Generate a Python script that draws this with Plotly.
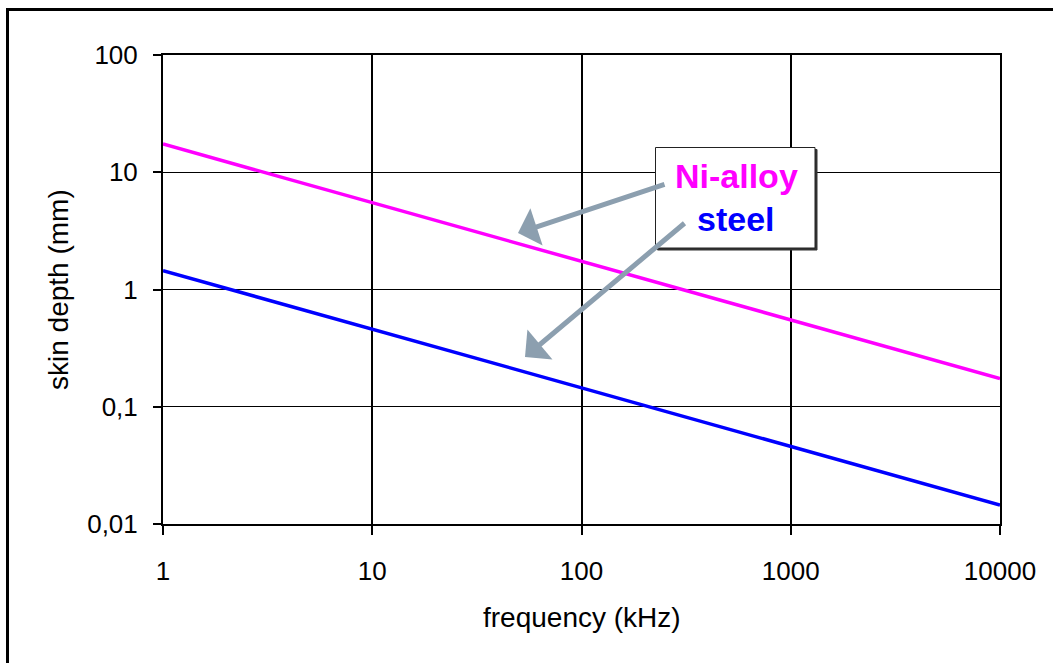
import plotly.graph_objects as go

# ---- data ----
freq_khz = [1, 10, 100, 1000, 10000]
ni_alloy_mm = [17.4, 5.5, 1.74, 0.55, 0.174]
steel_mm = [1.45, 0.46, 0.145, 0.046, 0.0145]

x_tickvals = [1, 10, 100, 1000, 10000]
x_ticktext = ["1", "10", "100", "1000", "10000"]
y_tickvals = [0.01, 0.1, 1, 10, 100]
y_ticktext = ["0,01", "0,1", "1", "10", "100"]

FONT = "Liberation Sans, Arial, sans-serif"
W, H = 1053, 663
L, R, T, B = 163, 1000, 55, 524  # plot-area pixel edges


def px(x):
    return (x - L) / (R - L)


def py(y):
    return (B - y) / (B - T)


fig = go.Figure()
fig.add_trace(go.Scatter(x=freq_khz, y=ni_alloy_mm, mode="lines", name="Ni-alloy",
                         line=dict(color="#FF00FF", width=3.5)))
fig.add_trace(go.Scatter(x=freq_khz, y=steel_mm, mode="lines", name="steel",
                         line=dict(color="#0000FF", width=3.5)))

fig.update_layout(
    width=W, height=H,
    margin=dict(l=L, r=W - R, t=T, b=H - B, pad=0),
    paper_bgcolor="white", plot_bgcolor="white",
    showlegend=False,
    font=dict(family=FONT, color="black", size=26),
    xaxis=dict(type="log", range=[0, 4], tickvals=x_tickvals, ticktext=x_ticktext,
               showgrid=True, gridcolor="black", gridwidth=2,
               showline=True, linecolor="black", linewidth=2, mirror=True,
               ticks="outside", ticklen=9, tickwidth=2, tickcolor="black",
               ticklabelstandoff=14, tickfont=dict(size=26), zeroline=False),
    yaxis=dict(type="log", range=[-2, 2], tickvals=y_tickvals, ticktext=y_ticktext,
               showgrid=True, gridcolor="black", gridwidth=1,
               showline=True, linecolor="black", linewidth=2, mirror=True,
               ticks="outside", ticklen=8, tickwidth=2, tickcolor="black",
               ticklabelstandoff=10, tickfont=dict(size=26), zeroline=False),
)

shapes = [
    # outer frame
    dict(type="rect", xref="paper", yref="paper", x0=px(7.5), x1=px(1070), y0=py(9.5), y1=py(690),
         line=dict(color="black", width=3), fillcolor="rgba(0,0,0,0)", layer="below"),
    # label box shadow
    dict(type="rect", xref="paper", yref="paper", x0=px(657.5), x1=px(817), y0=py(149.5), y1=py(250),
         line=dict(color="#333333", width=1), fillcolor="#333333", layer="above"),
    # label box
    dict(type="rect", xref="paper", yref="paper", x0=px(655.5), x1=px(815), y0=py(147.5), y1=py(248),
         line=dict(color="#222222", width=1), fillcolor="white", layer="above"),
]
fig.update_layout(shapes=shapes)

annotations = [
    dict(text="Ni-alloy", xref="paper", yref="paper", x=px(736), y=py(176),
         showarrow=False, xanchor="center", yanchor="middle",
         font=dict(family=FONT, size=34, color="#FF00FF", weight="bold")),
    dict(text="steel", xref="paper", yref="paper", x=px(736), y=py(219),
         showarrow=False, xanchor="center", yanchor="middle",
         font=dict(family=FONT, size=34, color="#0000FF", weight="bold")),
    # arrows
    dict(text="", xref="paper", yref="paper", x=px(518), y=py(233), ax=148, ay=-49,
         showarrow=True, arrowhead=1, arrowsize=1.3, arrowwidth=5, arrowcolor="#8C9FAF",
         standoff=0, startstandoff=0),
    dict(text="", xref="paper", yref="paper", x=px(525), y=py(357), ax=161, ay=-135,
         showarrow=True, arrowhead=1, arrowsize=1.3, arrowwidth=5, arrowcolor="#8C9FAF",
         standoff=0, startstandoff=0),
    # axis titles
    dict(text="frequency (kHz)", xref="paper", yref="paper", x=px(581.5), y=py(617),
         showarrow=False, xanchor="center", yanchor="middle",
         font=dict(family=FONT, size=28, color="black")),
    dict(text="skin depth (mm)", xref="paper", yref="paper", x=px(58), y=py(290),
         showarrow=False, xanchor="center", yanchor="middle", textangle=-90,
         font=dict(family=FONT, size=28, color="black")),
]
fig.update_layout(annotations=annotations)

fig.write_html(
    "out.html",
    config={"displayModeBar": False},
    post_script="document.body.style.margin='0';document.body.style.overflow='hidden';",
)
